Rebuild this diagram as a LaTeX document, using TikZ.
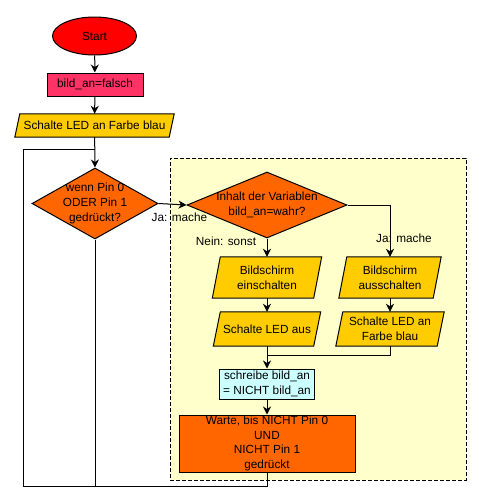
\documentclass[tikz,border=0pt]{standalone}
\usepackage{fontspec}
\setmainfont{Liberation Sans}
\usetikzlibrary{shapes.geometric,arrows.meta,backgrounds}
\definecolor{startred}{HTML}{FF0000}
\definecolor{initpink}{HTML}{FF3366}
\definecolor{ledyellow}{HTML}{FFCC00}
\definecolor{decorange}{HTML}{FF6600}
\definecolor{bgyellow}{HTML}{FFFFCC}
\definecolor{writecyan}{HTML}{CCFFFF}
\newcommand{\paraback}[2]{%
  \begin{pgfonlayer}{background}
  \filldraw[fill=ledyellow,draw=black,line width=1pt] ([xshift=#2]#1.north west) -- (#1.north east) -- ([xshift=-#2]#1.south east) -- (#1.south west) -- cycle;
  \end{pgfonlayer}}
\tikzset{
  arr/.style={-{Stealth[length=8pt,width=8pt,inset=2.5pt]}},
  conn/.style={draw=black,line width=1pt},
  para/.style={align=center,inner sep=0pt},
  decision/.style={diamond,draw=black,line width=1pt,fill=decorange,inner sep=0pt},
  procbox/.style={rectangle,draw=black,line width=1pt,align=center,inner sep=0pt},
  lbl/.style={inner sep=0pt}
}
\begin{document}
\begin{tikzpicture}[x=1pt,y=-1pt,font=\fontsize{11.8}{14.6}\selectfont]
\useasboundingbox (0,0) rectangle (481,501);
\begin{pgfonlayer}{background}
\fill[white] (0,0) rectangle (481,501);
\node[draw=black,line width=1pt,dash pattern=on 4pt off 2pt,fill=bgyellow,minimum width=296pt,minimum height=322pt,inner sep=0pt] (grp) at (318,319) {};
\end{pgfonlayer}

\node[ellipse,draw=black,line width=1pt,fill=startred,minimum width=84pt,minimum height=38pt,inner sep=0pt] (start) at (94.5,36) {Start};
\node[procbox,fill=initpink,minimum width=96pt,minimum height=23pt] (init) at (95,84.5) {bild\_an=falsch};
\node[para,minimum width=159pt,minimum height=23pt] (led1) at (94.5,125.5) {Schalte LED an Farbe blau};
\paraback{led1}{5pt}

\node[decision,minimum width=126pt,minimum height=71pt,label={[align=center]center:wenn Pin 0\\ODER Pin 1\\gedrückt?}] (d1) at (95,203.5) {};
\node[decision,minimum width=160pt,minimum height=66pt,label={[align=center]center:Inhalt der Variablen\\bild\_an=wahr?}] (d2) at (267,205) {};

\node[para,minimum width=109pt,minimum height=41pt] (bon) at (267,277.5) {Bildschirm\\einschalten};
\paraback{bon}{8pt}
\node[para,minimum width=102pt,minimum height=41pt] (boff) at (390,277.5) {Bildschirm\\ausschalten};
\paraback{boff}{8pt}
\node[para,minimum width=107pt,minimum height=34pt] (ledoff) at (267,329) {Schalte LED aus};
\paraback{ledoff}{7pt}
\node[para,minimum width=108pt,minimum height=34pt] (ledblue) at (390,329) {Schalte LED an\\Farbe blau};
\paraback{ledblue}{7pt}

\node[procbox,fill=writecyan,minimum width=95pt,minimum height=30pt] (write) at (267,384) {schreibe bild\_an\\= NICHT bild\_an};
\node[procbox,fill=decorange,minimum width=176pt,minimum height=57pt] (wait) at (267,443.5) {Warte, bis NICHT Pin 0\\UND\\NICHT Pin 1\\gedrückt};

\node[lbl] (lja1) at (179.5,217) {Ja: mache};
\node[lbl] (lnein) at (226,241) {Nein: sonst};
\node[lbl] (lja2) at (404,238) {Ja: mache};

\coordinate (merge) at (267,355);
\coordinate (lb) at (23,486);
\coordinate (lt) at (23,149);
\coordinate (jn) at (95,149);

\draw[conn,arr] (start) -- (init);
\draw[conn,arr] (init) -- (led1);
\draw[conn,arr] (led1) -- (d1.north);
\draw[conn,arr] (d1.east) -- (d2.west);
\draw[conn,arr] (d2.east) -| (boff.north);
\draw[conn,arr] (d2.south) -- (bon.north);
\draw[conn,arr] (bon) -- (ledoff);
\draw[conn,arr] (boff) -- (ledblue);
\draw[conn,arr] (ledoff.south) -- (write.north);
\draw[conn] (ledblue.south) |- (merge);
\draw[conn,arr] (write) -- (wait);
\draw[conn] (wait.south) |- (lb) -- (lt) -- (jn);
\draw[conn] (d1.south) -- (d1.south |- lb);
\end{tikzpicture}
\end{document}
